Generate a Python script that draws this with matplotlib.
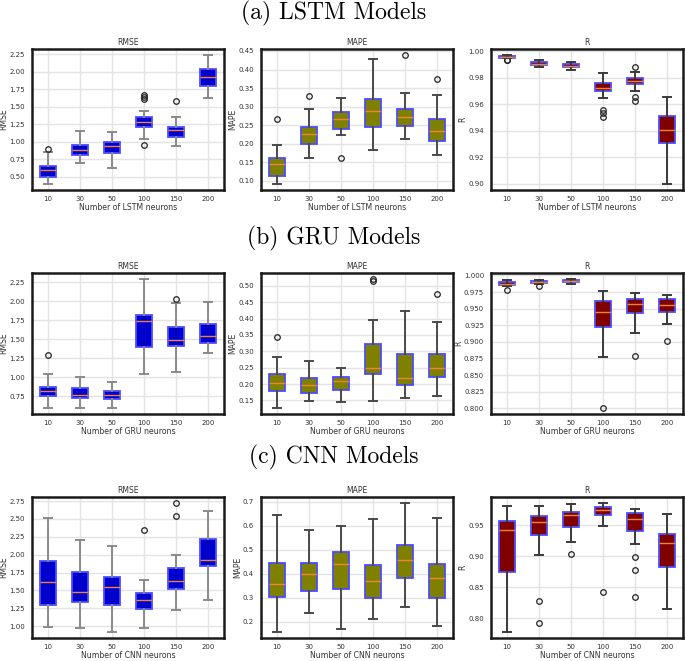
import matplotlib
matplotlib.use("Agg")
import matplotlib.pyplot as plt
from matplotlib.ticker import MultipleLocator

neurons = ["10", "30", "50", "100", "150", "200"]
models = ["LSTM", "GRU", "CNN"]
row_titles = ["(a) LSTM Models", "(b) GRU Models", "(c) CNN Models"]
metrics = ["RMSE", "MAPE", "R"]

# five-number summaries per box: [whislo, q1, med, q3, whishi]
lstm_rmse = [[0.40, 0.50, 0.59, 0.65, 0.85], [0.70, 0.81, 0.88, 0.95, 1.15],
             [0.62, 0.84, 0.93, 1.00, 1.13], [1.04, 1.21, 1.28, 1.35, 1.43],
             [0.94, 1.06, 1.17, 1.21, 1.35], [1.62, 1.80, 1.92, 2.04, 2.23]]
lstm_rmse_out = [[0.89], [], [], [0.95, 1.61, 1.63, 1.66], [1.58], []]

lstm_mape = [[0.093, 0.113, 0.145, 0.163, 0.196], [0.161, 0.199, 0.227, 0.245, 0.293],
             [0.223, 0.239, 0.266, 0.287, 0.323], [0.184, 0.245, 0.288, 0.321, 0.428],
             [0.213, 0.248, 0.271, 0.294, 0.338], [0.171, 0.208, 0.234, 0.267, 0.331]]
lstm_mape_out = [[0.266], [0.328], [0.163], [], [0.438], [0.375]]

lstm_r = [[0.9945, 0.9950, 0.9955, 0.9962, 0.9968], [0.9877, 0.9895, 0.9905, 0.9917, 0.9932],
          [0.9857, 0.9880, 0.9890, 0.9900, 0.9920], [0.9647, 0.9700, 0.9724, 0.9762, 0.9832],
          [0.9700, 0.9752, 0.9777, 0.9795, 0.9842], [0.9000, 0.9306, 0.9406, 0.9511, 0.9654]]
lstm_r_out = [[0.9930, 0.9935], [], [], [0.9555, 0.9535, 0.9505], [0.9877, 0.9657, 0.9627], []]

gru_rmse = [[0.601, 0.750, 0.820, 0.877, 1.043], [0.601, 0.724, 0.772, 0.859, 1.004],
            [0.601, 0.715, 0.767, 0.820, 0.934], [1.047, 1.397, 1.738, 1.820, 2.285],
            [1.074, 1.415, 1.490, 1.660, 1.975], [1.323, 1.445, 1.540, 1.695, 1.988]]
gru_rmse_out = [[1.29], [], [], [], [2.023], []]

gru_mape = [[0.128, 0.179, 0.202, 0.231, 0.282], [0.147, 0.173, 0.198, 0.218, 0.271],
            [0.145, 0.183, 0.210, 0.223, 0.248], [0.148, 0.230, 0.248, 0.322, 0.395],
            [0.156, 0.197, 0.220, 0.293, 0.423], [0.163, 0.223, 0.250, 0.293, 0.389]]
gru_mape_out = [[0.345], [], [], [0.520, 0.515], [], [0.474]]

gru_r = [[0.9845, 0.9860, 0.9875, 0.9895, 0.9925], [0.9870, 0.9885, 0.9905, 0.9920, 0.9935],
         [0.9875, 0.9895, 0.9915, 0.9930, 0.9940], [0.8767, 0.9227, 0.9446, 0.9620, 0.9760],
         [0.9127, 0.9430, 0.9566, 0.9640, 0.9730], [0.9276, 0.9450, 0.9560, 0.9646, 0.9710]]
gru_r_out = [[0.9775], [0.9835], [], [0.801], [0.8787], [0.9017]]

cnn_rmse = [[0.986, 1.303, 1.620, 1.910, 2.520], [0.980, 1.336, 1.476, 1.760, 2.204],
            [0.925, 1.290, 1.550, 1.686, 2.125], [0.972, 1.238, 1.364, 1.471, 1.644],
            [1.224, 1.518, 1.635, 1.817, 1.999], [1.369, 1.840, 1.929, 2.223, 2.605]]
cnn_rmse_out = [[], [], [], [2.349], [2.545, 2.717], []]

cnn_mape = [[0.160, 0.304, 0.359, 0.445, 0.645], [0.237, 0.330, 0.399, 0.444, 0.581],
            [0.171, 0.337, 0.441, 0.493, 0.599], [0.212, 0.300, 0.370, 0.437, 0.629],
            [0.261, 0.381, 0.457, 0.519, 0.693], [0.183, 0.298, 0.383, 0.441, 0.632]]
cnn_mape_out = [[], [], [], [], [], []]

cnn_r = [[0.7785, 0.8750, 0.9420, 0.9565, 0.9806], [0.9027, 0.9350, 0.9560, 0.9656, 0.9806],
         [0.9230, 0.9480, 0.9667, 0.9715, 0.9850], [0.9484, 0.9667, 0.9742, 0.9800, 0.9855],
         [0.9200, 0.9414, 0.9600, 0.9704, 0.9763], [0.8145, 0.8828, 0.9215, 0.9360, 0.9683]]
cnn_r_out = [[], [0.828, 0.7925], [0.9032], [0.8425], [0.8984, 0.8785, 0.8344], []]

data = [
    [(lstm_rmse, lstm_rmse_out), (lstm_mape, lstm_mape_out), (lstm_r, lstm_r_out)],
    [(gru_rmse, gru_rmse_out), (gru_mape, gru_mape_out), (gru_r, gru_r_out)],
    [(cnn_rmse, cnn_rmse_out), (cnn_mape, cnn_mape_out), (cnn_r, cnn_r_out)],
]

# y tick spacing per row / metric
tick_steps = [[0.25, 0.05, 0.02], [0.25, 0.05, 0.025], [0.25, 0.1, 0.05]]

face_colors = ["#0000cd", "#808000", "#800000"]
whisker_colors = ["#8a8a8a", "#4a4a4a", "#3a3a3a"]

W, H = 685, 661
fig = plt.figure(figsize=(W / 100, H / 100), dpi=100)

col_left = [32, 261, 491]
row_top = [49, 273, 497]
ax_w, ax_h = 192, 141
title_y = [13, 238, 457]

for r in range(3):
    fig.text(0.487, 1 - title_y[r] / H, row_titles[r], ha="center", va="center",
             fontsize=17, family="cmr10")
    for c in range(3):
        ax = fig.add_axes([col_left[c] / W, 1 - (row_top[r] + ax_h) / H, ax_w / W, ax_h / H])
        boxes, outs = data[r][c]
        stats = []
        for lab, b, o in zip(neurons, boxes, outs):
            stats.append({"label": lab, "whislo": b[0], "q1": b[1], "med": b[2],
                          "q3": b[3], "whishi": b[4], "fliers": o})
        ax.bxp(stats, patch_artist=True, widths=0.5,
               boxprops=dict(facecolor=face_colors[c], edgecolor="#4d4dff", linewidth=1.3),
               medianprops=dict(color="#e8853a", linewidth=1.0),
               whiskerprops=dict(color=whisker_colors[c], linewidth=1.4),
               capprops=dict(color=whisker_colors[c], linewidth=1.4),
               flierprops=dict(marker="o", markerfacecolor="none", markeredgecolor="#222222",
                               markersize=4, markeredgewidth=0.9))
        ax.yaxis.set_major_locator(MultipleLocator(tick_steps[r][c]))
        ax.set_axisbelow(True)
        ax.grid(True, color="#e3e3e3", linewidth=1.0)
        for s in ax.spines.values():
            s.set_color("#1a1a1a")
            s.set_linewidth(1.8)
        ax.tick_params(axis="y", length=0, labelsize=5, labelcolor="#333333", pad=5)
        ax.tick_params(axis="x", length=0, labelsize=5, labelcolor="#333333", pad=4)
        ax.set_title(metrics[c], fontsize=5.5, color="#333333", pad=3)
        ax.set_ylabel(metrics[c], fontsize=5.6, color="#333333", labelpad=0.5)
        ax.set_xlabel("Number of %s neurons" % models[r], fontsize=5.6, color="#333333",
                      labelpad=1)

fig.savefig("out.png", dpi=100)
